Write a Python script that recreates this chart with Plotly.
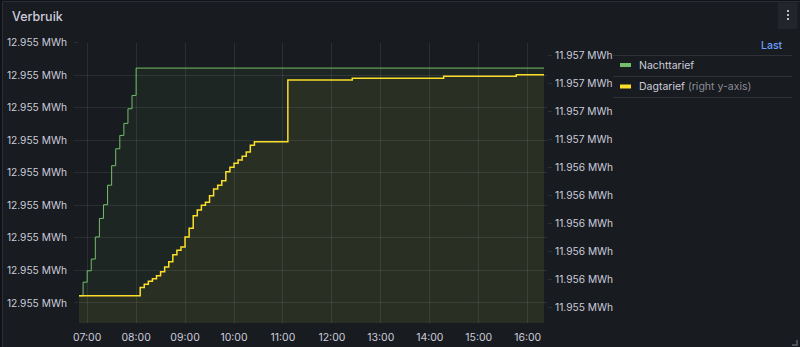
import plotly.graph_objects as go

W, H = 800, 347

# ---- data ----
nacht_times = ["06:50", "06:55", "07:00", "07:05", "07:10", "07:15", "07:20", "07:25",
               "07:30", "07:35", "07:40", "07:45", "07:50", "07:55", "08:00", "16:20"]
nacht_values = [12.954622, 12.954664, 12.954699, 12.954735, 12.954803, 12.954860,
                12.954902, 12.954962, 12.955022, 12.955074, 12.955115, 12.955152,
                12.955197, 12.955238, 12.955322, 12.955322]

dag_times = ["06:50", "08:05", "08:10", "08:15", "08:20", "08:25", "08:30", "08:35",
             "08:40", "08:45", "08:50", "08:55", "09:00", "09:05", "09:10", "09:15",
             "09:20", "09:25", "09:30", "09:35", "09:40", "09:45", "09:50", "09:55",
             "10:00", "10:05", "10:10", "10:15", "10:20", "10:25", "11:06", "12:25",
             "14:17", "15:46", "16:20"]
dag_values = [11.955483, 11.955543, 11.955565, 11.955586, 11.955605, 11.955626,
              11.955655, 11.955689, 11.955727, 11.955777, 11.955808, 11.955832,
              11.955904, 11.955966, 11.956056, 11.956097, 11.956131, 11.956152,
              11.956199, 11.956247, 11.956274, 11.956307, 11.956371, 11.956403,
              11.956432, 11.956455, 11.956482, 11.956512, 11.956560, 11.956586,
              11.957028, 11.957040, 11.957054, 11.957066, 11.957066]

left_ticks = [12.9546, 12.9547, 12.9548, 12.9549, 12.9550, 12.9551, 12.9552, 12.9553, 12.9554]
right_ticks = [11.9554, 11.9556, 11.9558, 11.9560, 11.9562, 11.9564, 11.9566, 11.9568, 11.9570, 11.9572]

DAY = "2024-01-01 "
GREEN = "#73BF69"
YELLOW = "#FADE2A"
TXT = "#ccccdc"
GRID = "rgba(240,250,255,0.09)"
FONT = "Inter"
FS = 10.2

def px(x):
    return x / W

def py(y):
    return 1 - y / H

fig = go.Figure()
fig.add_trace(go.Scatter(
    x=[DAY + t for t in nacht_times], y=nacht_values, mode="lines",
    line=dict(color=GREEN, width=1, shape="hv"),
    fill="tozeroy", fillcolor="rgba(115,191,105,0.07)",
    name="Nachttarief", yaxis="y", showlegend=False, hoverinfo="skip"))
fig.add_trace(go.Scatter(
    x=[DAY + t for t in dag_times], y=dag_values, mode="lines",
    line=dict(color=YELLOW, width=1.5, shape="hv"),
    fill="tozeroy", fillcolor="rgba(250,222,42,0.055)",
    name="Dagtarief", yaxis="y2", showlegend=False, hoverinfo="skip"))

shapes = []
# panel
shapes.append(dict(type="rect", xref="paper", yref="paper", layer="below",
                   x0=px(2.5), x1=px(801), y0=py(1.5), y1=py(349),
                   fillcolor="#181b1f", line=dict(color="#2a2d33", width=1)))
# menu button
shapes.append(dict(type="rect", xref="paper", yref="paper", layer="above",
                   x0=px(778), x1=px(797.5), y0=py(2.5), y1=py(29),
                   fillcolor="#22252b", line=dict(width=0)))
for dy in (11, 15, 19):
    shapes.append(dict(type="rect", xref="paper", yref="paper", layer="above",
                       x0=px(787), x1=px(789), y0=py(dy - 1), y1=py(dy + 1),
                       fillcolor="#b9bac4", line=dict(width=0)))
# legend separators
for sy in (55.5, 76.5, 97.5):
    shapes.append(dict(type="line", xref="paper", yref="paper", layer="above",
                       x0=px(613), x1=px(792), y0=py(sy), y1=py(sy),
                       line=dict(color="rgba(204,204,220,0.12)", width=1)))
# legend icons
for iy, col in ((65, GREEN), (86.5, YELLOW)):
    shapes.append(dict(type="line", xref="paper", yref="paper", layer="above",
                       x0=px(620), x1=px(631), y0=py(iy), y1=py(iy),
                       line=dict(color=col, width=4)))
# resize handle
shapes.append(dict(type="path", xref="paper", yref="paper", layer="above",
                   path=f"M {px(797)},{py(340)} L {px(797)},{py(345)} L {px(792)},{py(345)}",
                   line=dict(color="rgba(204,204,220,0.4)", width=1.5)))

annotations = [
    dict(text="Verbruik", x=px(10), y=py(17), xref="paper", yref="paper",
         xanchor="left", yanchor="middle", showarrow=False,
         font=dict(family=FONT, size=12.5, color=TXT, weight=500)),
    dict(text="Last", x=px(785), y=py(45), xref="paper", yref="paper",
         xanchor="right", yanchor="middle", showarrow=False,
         font=dict(family=FONT, size=10.5, color="#6e9fff", weight=500)),
    dict(text="Nachttarief", x=px(637), y=py(65.5), xref="paper", yref="paper",
         xanchor="left", yanchor="middle", showarrow=False,
         font=dict(family=FONT, size=10.5, color=TXT)),
    dict(text="Dagtarief <span style='color:rgba(204,204,220,0.65)'>(right y-axis)</span>",
         x=px(637), y=py(87), xref="paper", yref="paper",
         xanchor="left", yanchor="middle", showarrow=False,
         font=dict(family=FONT, size=10.5, color=TXT)),
]

fig.update_layout(
    width=W, height=H, margin=dict(l=0, r=0, t=0, b=0, pad=0, autoexpand=False),
    paper_bgcolor="#111217", plot_bgcolor="rgba(0,0,0,0)",
    font=dict(family=FONT, size=FS, color=TXT),
    showlegend=False, shapes=shapes, annotations=annotations,
    xaxis=dict(
        type="date", domain=[px(79), px(547)], automargin=False,
        range=[DAY + "06:50", DAY + "16:23:40"],
        tickformat="%H:%M", dtick=3600000, tick0=DAY + "07:00",
        showgrid=True, gridcolor=GRID, gridwidth=1, zeroline=False,
        showline=False, ticks="", ticklabelstandoff=6,
        tickfont=dict(family=FONT, size=10.5, color=TXT), fixedrange=True),
    yaxis=dict(
        domain=[py(323), py(42.7)], range=[12.9545385, 12.9554], automargin=False,
        tickvals=left_ticks, ticktext=["12.955 MWh"] * len(left_ticks),
        showgrid=True, gridcolor=GRID, gridwidth=1, zeroline=False,
        showline=False, ticks="outside", ticklen=4, tickcolor=GRID,
        ticklabelstandoff=5,
        tickfont=dict(family=FONT, size=FS, color=TXT), fixedrange=True),
    yaxis2=dict(
        overlaying="y", side="right", anchor="x", automargin=False,
        range=[11.955288, 11.9572946],
        tickvals=right_ticks, ticktext=[f"{v:.3f} MWh" for v in right_ticks],
        showgrid=False, zeroline=False, showline=False,
        ticks="outside", ticklen=4, tickcolor=GRID, ticklabelstandoff=1,
        tickfont=dict(family=FONT, size=FS, color=TXT), fixedrange=True),
)

fig.write_html("out.html", config=dict(displayModeBar=False))
